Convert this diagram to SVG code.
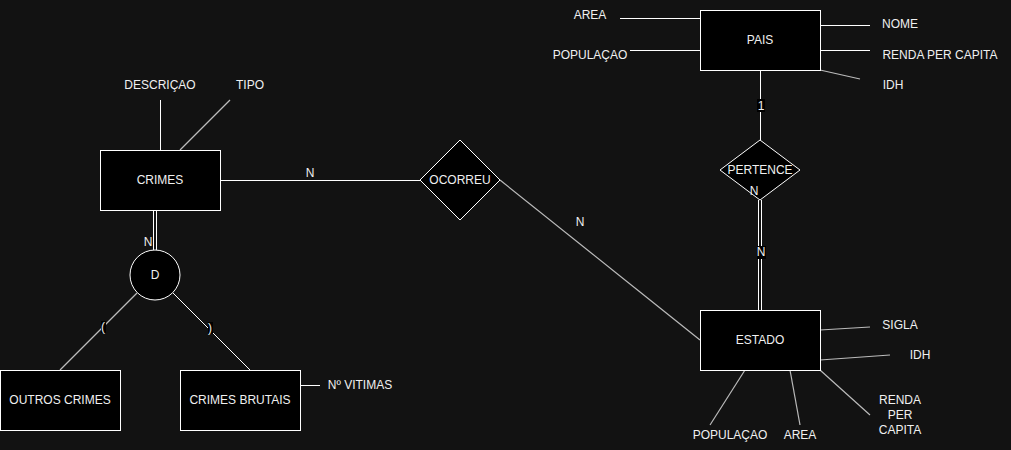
<svg xmlns="http://www.w3.org/2000/svg" width="1011" height="450" viewBox="0 0 1011 450">
<style>
.bg{fill:#121212}
.ent{fill:#000;stroke:#fff;stroke-width:1}
.ln{stroke:#fff;stroke-width:1;fill:none}
.dg{stroke:#bbb;stroke-width:1.2;fill:none}
text{font-family:"Liberation Sans",Arial,sans-serif;font-size:12px;fill:#f0f0f0;text-anchor:middle;dominant-baseline:central}
.lb{fill:#000}
</style>
<rect class="bg" x="0" y="0" width="1011" height="450"/>
<g id="connectors">
<line class="ln" x1="160.5" y1="100" x2="160.5" y2="150"/>
<line class="dg" x1="230" y1="100" x2="180" y2="150"/>
<line class="ln" x1="220" y1="180.5" x2="420" y2="180.5"/>
<line class="dg" x1="500" y1="180" x2="700" y2="340"/>
<line class="ln" x1="153.5" y1="210" x2="153.5" y2="250"/>
<line class="ln" x1="156.5" y1="210" x2="156.5" y2="250"/>
<line class="dg" x1="137" y1="293" x2="60" y2="370"/>
<line class="ln" x1="173" y1="293" x2="250" y2="370"/>
<line class="ln" x1="300" y1="385.5" x2="320" y2="385.5"/>
<line class="ln" x1="620" y1="18.5" x2="700" y2="18.5"/>
<line class="ln" x1="630" y1="50.5" x2="700" y2="50.5"/>
<line class="ln" x1="820" y1="25.5" x2="870" y2="25.5"/>
<line class="ln" x1="820" y1="50.5" x2="870" y2="50.5"/>
<line class="dg" x1="820" y1="70" x2="860" y2="79"/>
<line class="ln" x1="760.5" y1="70" x2="760.5" y2="140"/>
<line class="ln" x1="758.5" y1="200" x2="758.5" y2="310"/>
<line class="ln" x1="761.5" y1="200" x2="761.5" y2="310"/>
<line class="dg" x1="820" y1="330" x2="870" y2="327"/>
<line class="dg" x1="820" y1="360" x2="890" y2="355"/>
<line class="dg" x1="820" y1="370" x2="870" y2="415"/>
<line class="dg" x1="745" y1="370" x2="710" y2="425"/>
<line class="dg" x1="790" y1="370" x2="800" y2="425"/>
<text x="310" y="173">N</text>
<text x="580" y="222">N</text>
<text x="148" y="242">N</text>
<rect class="lb" x="101" y="321" width="5" height="12"/>
<text x="103" y="327">(</text>
<rect class="lb" x="208" y="322" width="5" height="12"/>
<text x="210" y="328">)</text>
<rect class="lb" x="757" y="99" width="8" height="13"/>
<text x="761" y="106">1</text>
<rect class="lb" x="757" y="246" width="9" height="13"/>
<text x="761" y="252">N</text>
</g>
<g id="crimes"><rect class="ent" x="100.5" y="150.5" width="120" height="60"/><text x="160" y="180">CRIMES</text></g>
<g id="descricao"><text x="160" y="85">DESCRIÇAO</text></g>
<g id="tipo"><text x="250" y="85">TIPO</text></g>
<g id="ocorreu"><polygon class="ent" points="460,140 500,180 460,220 420,180"/><text x="460" y="180">OCORREU</text></g>
<g id="d"><circle class="ent" cx="155" cy="275" r="25"/><text x="155" y="275">D</text></g>
<g id="outros"><rect class="ent" x="0.5" y="370.5" width="120" height="60"/><text x="60" y="400">OUTROS CRIMES</text></g>
<g id="brutais"><rect class="ent" x="180.5" y="370.5" width="120" height="60"/><text x="240" y="400">CRIMES BRUTAIS</text></g>
<g id="vitimas"><text x="360" y="385">Nº VITIMAS</text></g>
<g id="pais"><rect class="ent" x="700.5" y="10.5" width="120" height="60"/><text x="760" y="40">PAIS</text></g>
<g id="pais-area"><text x="590" y="15">AREA</text></g>
<g id="pais-pop"><text x="590" y="55">POPULAÇAO</text></g>
<g id="pais-nome"><text x="900" y="24">NOME</text></g>
<g id="pais-renda"><text x="940" y="55">RENDA PER CAPITA</text></g>
<g id="pais-idh"><text x="893" y="85">IDH</text></g>
<g id="pertence"><polygon class="ent" points="760,140 800,170 760,200 720,170"/><text x="760" y="170">PERTENCE</text><text x="754" y="191">N</text></g>
<g id="estado"><rect class="ent" x="700.5" y="310.5" width="120" height="60"/><text x="760" y="340">ESTADO</text></g>
<g id="est-sigla"><text x="900" y="325">SIGLA</text></g>
<g id="est-idh"><text x="920" y="355">IDH</text></g>
<g id="est-renda"><text x="900" y="400">RENDA</text><text x="900" y="415">PER</text><text x="900" y="430">CAPITA</text></g>
<g id="est-pop"><text x="730" y="435">POPULAÇAO</text></g>
<g id="est-area"><text x="800" y="435">AREA</text></g>
</svg>
